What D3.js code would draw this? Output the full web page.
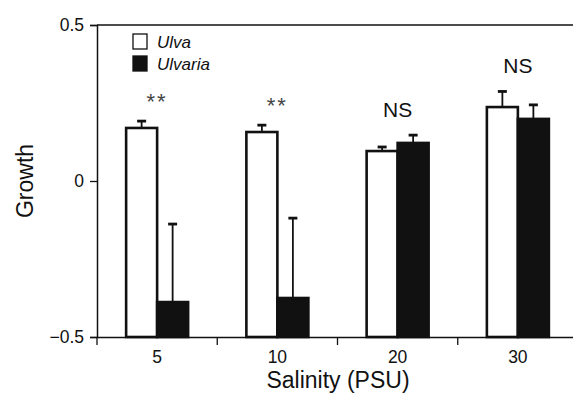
<!DOCTYPE html>
<html>
<head>
<meta charset="utf-8">
<script src="https://cdn.jsdelivr.net/npm/d3@7"></script>
<style>
	body { margin: 0; background: #fff; }
	text { font-family: "Liberation Sans", Arial, Helvetica, sans-serif; fill: #111; }
</style>
</head>
<body>
<svg id="chart" width="573" height="395"></svg>
<script>
'use strict';

// salinity levels (PSU)
var categories = ['5', '10', '20', '30'];
var series = ['Ulva', 'Ulvaria'];
var ulvaValues = [0.17, 0.157, 0.096, 0.237];
var ulvaErrors = [0.022, 0.022, 0.013, 0.05];
var ulvariaValues = [-0.388, -0.375, 0.122, 0.199];
var ulvariaErrors = [0.25, 0.256, 0.025, 0.045];
var marks = ['**', '**', 'NS', 'NS'];
var yTicks = [0.5, 0, -0.5];

var svg = d3.select('#chart');
var margin = { left: 97, top: 25, right: -5, bottom: 58 };
var width = 573 - margin.left - margin.right;
var height = 395 - margin.top - margin.bottom;

var g = svg.append('g')
	.attr('transform', 'translate(' + margin.left + ',' + margin.top + ')');

var x = d3.scaleBand()
	.domain(categories)
	.range([0, width])
	.padding(0);

var x1 = d3.scaleBand()
	.domain(series)
	.range([x.bandwidth() / 2 - 31, x.bandwidth() / 2 + 31]);

var y = d3.scaleLinear()
	.domain([-0.5, 0.5])
	.range([height, 0]);

var rows = categories.map(function(c, i) {
	return {
		cat: c,
		mark: marks[i],
		bars: [
			{ key: 'Ulva', value: ulvaValues[i], err: ulvaErrors[i] },
			{ key: 'Ulvaria', value: ulvariaValues[i], err: ulvariaErrors[i] }
		]
	};
});

// top frame line
g.append('line')
	.attr('x1', 0).attr('x2', width)
	.attr('y1', 0).attr('y2', 0)
	.attr('stroke', '#111').attr('stroke-width', 1.5);

// groups
var groups = g.selectAll('g.grp')
	.data(rows)
	.enter()
	.append('g')
	.attr('class', 'grp')
	.attr('transform', function(d) { return 'translate(' + x(d.cat) + ',0)'; });

var bars = groups.selectAll('g.bar')
	.data(function(d) { return d.bars; })
	.enter()
	.append('g')
	.attr('class', 'bar');

// error bars (upward only)
bars.append('line')
	.attr('x1', function(d) { return x1(d.key) + x1.bandwidth() / 2; })
	.attr('x2', function(d) { return x1(d.key) + x1.bandwidth() / 2; })
	.attr('y1', function(d) { return y(d.value); })
	.attr('y2', function(d) { return y(d.value + d.err); })
	.attr('stroke', '#111').attr('stroke-width', 1.8);

bars.append('line')
	.attr('x1', function(d) { return x1(d.key) + x1.bandwidth() / 2 - 4.5; })
	.attr('x2', function(d) { return x1(d.key) + x1.bandwidth() / 2 + 4.5; })
	.attr('y1', function(d) { return y(d.value + d.err); })
	.attr('y2', function(d) { return y(d.value + d.err); })
	.attr('stroke', '#111').attr('stroke-width', 2.8);

bars.append('rect')
	.attr('x', function(d) { return x1(d.key); })
	.attr('width', x1.bandwidth())
	.attr('y', function(d) { return y(d.value); })
	.attr('height', function(d) { return y(-0.5) - y(d.value); })
	.attr('fill', function(d) { return d.key === 'Ulva' ? '#fff' : '#111'; })
	.attr('stroke', '#111')
	.attr('stroke-width', 2.6);

// significance marks
groups.append('text')
	.attr('x', x.bandwidth() / 2)
	.attr('y', function(d) {
		var top = d3.max(d.bars, function(b) { return b.value + b.err; });
		return y(top) - (d.mark === 'NS' ? 18 : 12);
	})
	.attr('text-anchor', 'middle')
	.style('font-size', function(d) { return d.mark === 'NS' ? '21px' : '22px'; })
	.style('letter-spacing', function(d) { return d.mark === 'NS' ? '0px' : '2px'; })
	.style('fill', function(d) { return d.mark === 'NS' ? '#111' : '#444'; })
	.text(function(d) { return d.mark; });

// axes
var yAxis = d3.axisLeft(y)
	.tickValues(yTicks)
	.tickSize(7)
	.tickPadding(6)
	.tickFormat(function(d) { return d === 0 ? '0' : d3.format('.1f')(d).replace('-', '\u2013'); });

var ya = g.append('g').call(yAxis);
ya.select('.domain').attr('stroke', '#111').attr('stroke-width', 1.5);
ya.selectAll('.tick line').attr('stroke', '#111').attr('stroke-width', 1.3);
ya.selectAll('.tick text').style('font-size', '17.5px').attr('fill', '#111');

var xa = g.append('g')
	.attr('transform', 'translate(0,' + height + ')')
	.call(d3.axisBottom(x).tickSize(0).tickPadding(14));
xa.select('.domain').attr('stroke', '#111').attr('stroke-width', 1.5);
xa.selectAll('.tick text').style('font-size', '17.5px').attr('fill', '#111');

// category boundary ticks
xa.selectAll('line.sep')
	.data(categories)
	.enter()
	.append('line')
	.attr('class', 'sep')
	.attr('x1', function(d) { return x(d); })
	.attr('x2', function(d) { return x(d); })
	.attr('y1', 0).attr('y2', 8)
	.attr('stroke', '#111').attr('stroke-width', 1.3);

// axis titles
svg.append('text')
	.attr('transform', 'translate(33,' + (margin.top + y(0)) + ') rotate(-90)')
	.attr('text-anchor', 'middle')
	.style('font-size', '23px')
	.text('Growth');

svg.append('text')
	.attr('x', 338)
	.attr('y', 388)
	.attr('text-anchor', 'middle')
	.style('font-size', '23px')
	.text('Salinity (PSU)');

// legend
var legend = g.selectAll('g.legend')
	.data(series)
	.enter()
	.append('g')
	.attr('class', 'legend')
	.attr('transform', function(d, i) { return 'translate(36,' + (9 + i * 22) + ')'; });

legend.append('rect')
	.attr('width', 14).attr('height', 15)
	.attr('fill', function(d) { return d === 'Ulva' ? '#fff' : '#111'; })
	.attr('stroke', '#111').attr('stroke-width', 1.3);

legend.append('text')
	.attr('x', 24).attr('y', 14)
	.style('font-size', '17px')
	.style('font-style', 'italic')
	.text(function(d) { return d; });
</script>
</body>
</html>
